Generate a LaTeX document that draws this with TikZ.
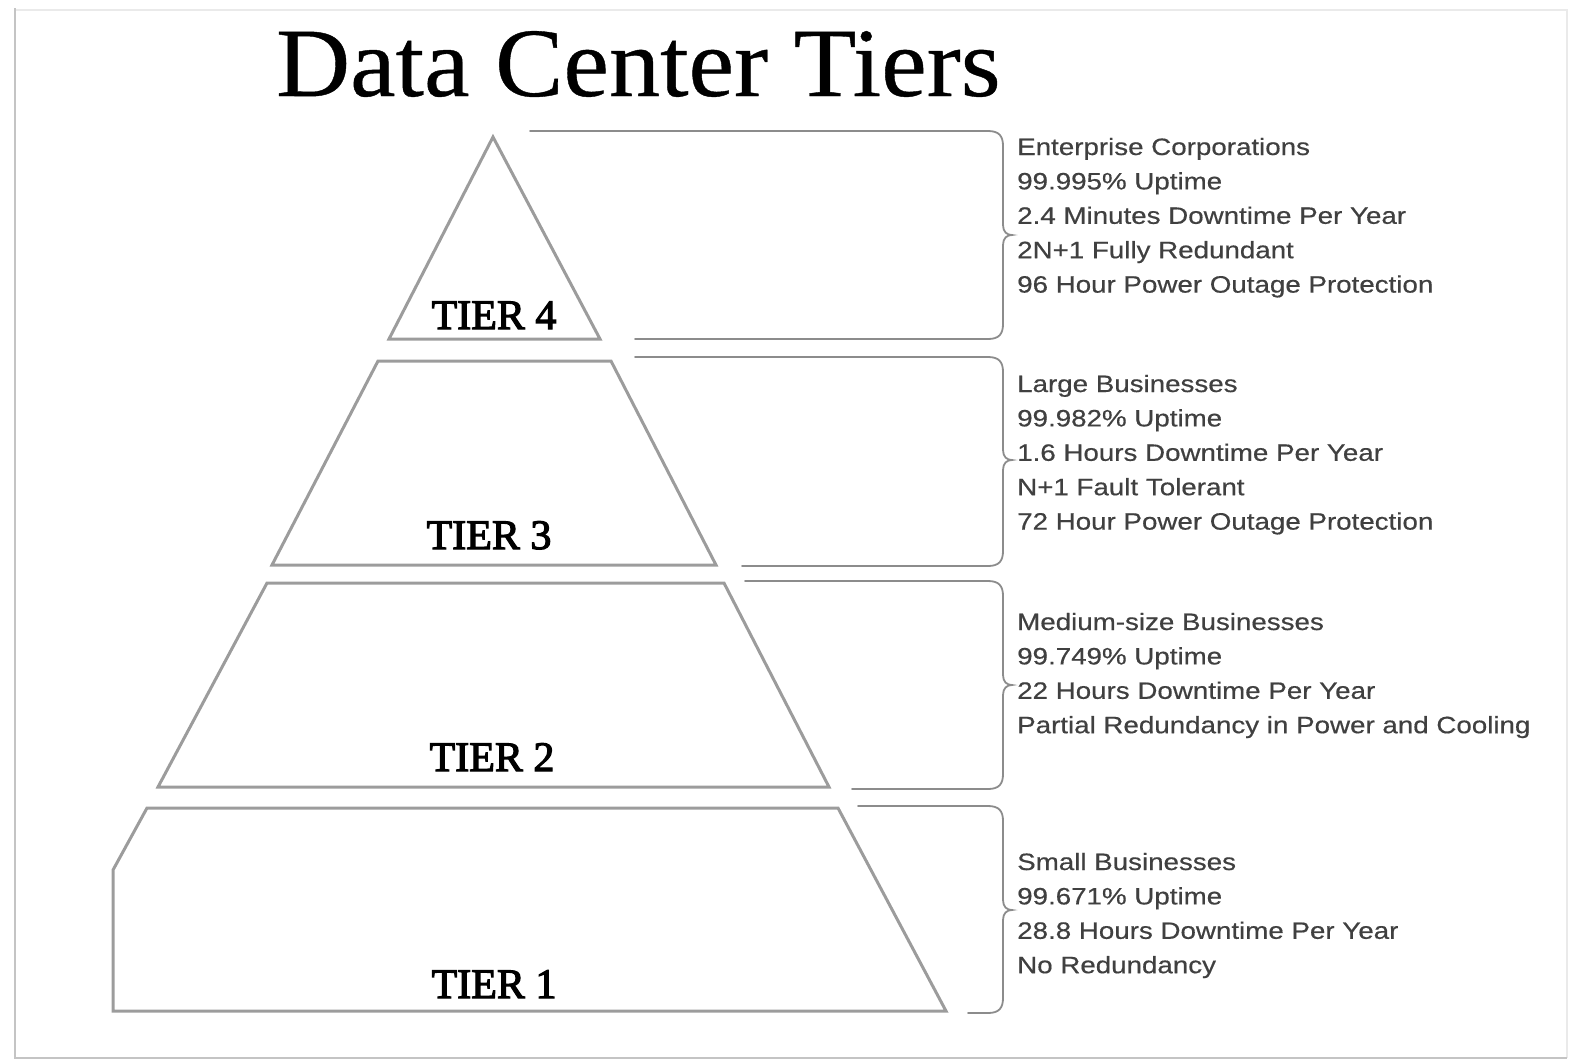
\documentclass[tikz,border=0pt]{standalone}
\usepackage{fontspec}
\newfontfamily\titlefont[FakeStretch=1.045,FakeBold=0.4]{Liberation Serif}
\newfontfamily\tierfont[FakeBold=2.8]{Liberation Serif}
\newfontfamily\sidefont[FakeStretch=1.17,FakeBold=0.5]{Liberation Sans}
\definecolor{tierline}{HTML}{9C9C9C}
\definecolor{braceline}{HTML}{8C8C8C}
\definecolor{sidetext}{HTML}{404040}
\definecolor{framedark}{HTML}{C4C4C4}
\definecolor{framelight}{HTML}{EAEAEA}
\tikzset{
  tiershape/.style={draw=tierline, line width=3pt, line join=miter},
  bracepath/.style={draw=braceline, line width=1.8pt, line cap=round},
  tierlabel/.style={font=\tierfont\fontsize{42}{42}\selectfont, anchor=base, inner sep=0pt, text=black},
  sideline/.style={font=\sidefont\fontsize{23.7}{23.7}\selectfont, anchor=base west, inner sep=0pt, text=sidetext},
}
\newcommand\tierbrace[5]{% top y, bottom y, tip y, top start x, bottom start x
  \draw[bracepath] (#4,#1) -- (988,#1) .. controls (999,#1) and (1003,{#1+5}) .. (1003,{#1+15})
    -- (1003,{#3-10}) .. controls (1003,{#3-3}) and (1007,#3) .. (1012,#3)
    .. controls (1007,#3) and (1003,{#3+3}) .. (1003,{#3+10})
    -- (1003,{#2-15}) .. controls (1003,{#2-5}) and (999,#2) .. (988,#2) -- (#5,#2);}
\begin{document}
\begin{tikzpicture}[x=1pt,y=-1pt]
\useasboundingbox (0,0) rectangle (1570,1060);
% frame
\draw[framelight, line width=1.2pt] (15,10) -- (1567,10) -- (1567,1058);
\draw[framedark, line width=1.5pt] (15,8) -- (15,1058) -- (1567,1058);
% title
\node[font=\titlefont\fontsize{98}{98}\selectfont, anchor=base west, inner sep=0pt] (title) at (276,96) {Data Center Tiers};
% tiers
\draw[tiershape] (493,137) -- (600,339) -- (389,339) -- cycle;
\draw[tiershape] (378,361) -- (611,361) -- (716,565) -- (272,565) -- cycle;
\draw[tiershape] (267,583) -- (724,583) -- (829,787) -- (158,787) -- cycle;
\draw[tiershape] (147,808) -- (838,808) -- (946,1011) -- (113,1011) -- (113,870) -- cycle;
\node[tierlabel] (tier4) at (494,329) {TIER 4};
\node[tierlabel] (tier3) at (489,549) {TIER 3};
\node[tierlabel] (tier2) at (492,771) {TIER 2};
\node[tierlabel] (tier1) at (494,998) {TIER 1};
% braces
\tierbrace{131}{339}{235}{530}{635}
\tierbrace{357}{566}{460}{635}{742}
\tierbrace{581}{789}{685}{745}{852}
\tierbrace{806}{1013}{910}{858}{968}
% side texts
\foreach \t [count=\i] in {Enterprise Corporations, 99.995\% Uptime, 2.4 Minutes Downtime Per Year, 2N+1 Fully Redundant, 96 Hour Power Outage Protection}
  \node[sideline] (d4-\i) at (1017,{155+34.4*(\i-1)}) {\t};
\foreach \t [count=\i] in {Large Businesses, 99.982\% Uptime, 1.6 Hours Downtime Per Year, N+1 Fault Tolerant, 72 Hour Power Outage Protection}
  \node[sideline] (d3-\i) at (1017,{392+34.4*(\i-1)}) {\t};
\foreach \t [count=\i] in {Medium-size Businesses, 99.749\% Uptime, 22 Hours Downtime Per Year, Partial Redundancy in Power and Cooling}
  \node[sideline] (d2-\i) at (1017,{630+34.4*(\i-1)}) {\t};
\foreach \t [count=\i] in {Small Businesses, 99.671\% Uptime, 28.8 Hours Downtime Per Year, No Redundancy}
  \node[sideline] (d1-\i) at (1017,{870+34.4*(\i-1)}) {\t};
\end{tikzpicture}
\end{document}
